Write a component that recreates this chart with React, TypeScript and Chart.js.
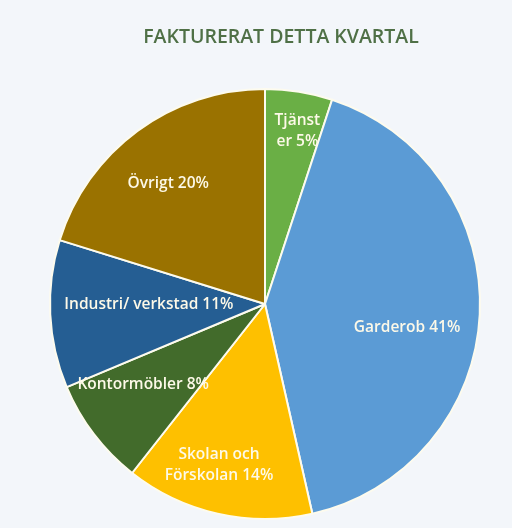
import React, { useEffect, useRef } from "react";
import { Chart, registerables } from "chart.js";

Chart.register(...registerables);

const TITLE = "FAKTURERAT DETTA KVARTAL";
const categories = ["Tjänster", "Garderob", "Skolan och Förskolan", "Kontormöbler", "Industri/ verkstad", "Övrigt"];
const values = [5, 41, 14, 8, 11, 20];
const labelLines = [
  ["Tjänst", "er 5%"],
  ["Garderob 41%"],
  ["Skolan och", "Förskolan 14%"],
  ["Kontormöbler 8%"],
  ["Industri/ verkstad 11%"],
  ["Övrigt 20%"],
];
const colors = ["#6aaf45", "#5b9bd5", "#fec000", "#426b2b", "#255e93", "#9a7200"];

// label placement: fraction of radius, angle nudge (deg)
const labelRadius = [0.82, 0.67, 0.78, 0.68, 0.54, 0.72];
const labelNudge = [1.5, 6.8, 3.2, 3.7, 2.5, -2.3];

const FONT = "'Open Sans', sans-serif";

const labelPlugin = {
  id: "sliceLabels",
  afterDatasetsDraw(chart: any) {
    const ctx = chart.ctx;
    const meta = chart.getDatasetMeta(0);
    ctx.save();
    ctx.fillStyle = "#fdf9e8";
    ctx.font = `600 15.5px ${FONT}`;
    ctx.textAlign = "center";
    ctx.textBaseline = "middle";
    meta.data.forEach((arc: any, i: number) => {
      const { x, y, startAngle, endAngle, outerRadius } = arc.getProps(
        ["x", "y", "startAngle", "endAngle", "outerRadius"],
        true
      );
      const mid = (startAngle + endAngle) / 2 + (labelNudge[i] * Math.PI) / 180;
      const r = outerRadius * labelRadius[i];
      const cx = x + Math.cos(mid) * r;
      const cy = y + Math.sin(mid) * r;
      const lines = labelLines[i];
      const lh = 21;
      lines.forEach((ln, k) => {
        ctx.fillText(ln, cx, cy + (k - (lines.length - 1) / 2) * lh);
      });
    });
    // title
    ctx.fillStyle = "#4f7046";
    ctx.font = `600 19.5px ${FONT}`;
    ctx.fillText(TITLE, 281, 37);
    ctx.restore();
  },
};

export default function App() {
  const ref = useRef<HTMLCanvasElement | null>(null);
  useEffect(() => {
    if (!ref.current) return;
    const chart = new Chart(ref.current, {
      type: "pie",
      data: {
        labels: categories,
        datasets: [
          {
            data: values,
            backgroundColor: colors,
            borderColor: "#fdfbee",
            borderWidth: 2,
          },
        ],
      },
      options: {
        animation: false,
        responsive: false,
        layout: { padding: { top: 88, bottom: 8, left: 49, right: 31 } },
        plugins: {
          legend: { display: false },
          tooltip: { enabled: false },
          title: { display: false },
        },
      },
      plugins: [labelPlugin],
    });
    return () => chart.destroy();
  }, []);
  return (
    <div style={{ position: "absolute", left: 0, top: 0, width: 512, height: 528, background: "#f3f6fa" }}>
      <canvas ref={ref} width={512} height={528} style={{ display: "block" }} />
    </div>
  );
}
